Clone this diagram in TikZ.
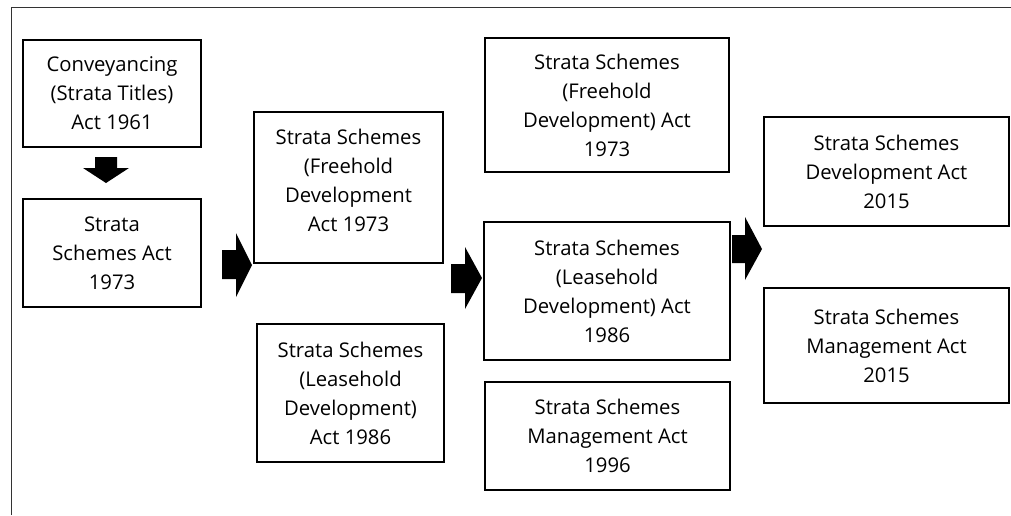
\documentclass[tikz,border=0pt]{standalone}
\usepackage{fontspec}
\setmainfont{Open Sans}
\begin{document}
\begin{tikzpicture}[x=0.75pt,y=-0.75pt,
  box/.style={draw=black,line width=1.1pt,align=center,inner sep=0pt,
    font=\fontsize{15.2}{21.7}\selectfont,text=black},
  lbl/.style={align=center,inner sep=0pt,font=\fontsize{15.2}{21.7}\selectfont,text=black},
  blockarrow/.style={fill=black,draw=none}]
\useasboundingbox (0,0) rectangle (1011,515);
% frame
\draw[line width=0.8pt,black!80] (11.5,515) -- (11.5,7.5) -- (1011,7.5);
% boxes
\newcommand{\bx}[6]{\node[box,minimum width={(#4-#2)*0.75pt},minimum height={(#5-#3)*0.75pt}] (#1) at ({(#2+#4)/2},{(#3+#5)/2}) {#6};}
\bx{A}{23}{40}{201}{147}{Conveyancing\\(Strata Titles)\\Act 1961}
\bx{B}{23}{199}{201}{307}{Strata\\Schemes Act\\1973}
\bx{C}{254}{112}{443}{263}{}
\node[lbl] (Ct) at ([yshift=5.5pt]C.center) {Strata Schemes\\(Freehold\\Development\\Act 1973};
\bx{D}{257}{324}{444}{462}{Strata Schemes\\(Leasehold\\Development)\\Act 1986}
\bx{E}{485}{38}{729}{172}{Strata Schemes\\(Freehold\\Development) Act\\1973}
\bx{F}{484}{222}{730}{360}{Strata Schemes\\(Leasehold\\Development) Act\\1986}
\bx{G}{485}{382}{730}{490}{Strata Schemes\\Management Act\\1996}
\bx{H}{764}{117}{1009}{226}{Strata Schemes\\Development Act\\2015}
\bx{I}{764}{288}{1009}{403}{Strata Schemes\\Management Act\\2015}
% block arrows
\coordinate (t1) at (106,183);
\fill[blockarrow] (t1) -- ++(-23,-15) -- ++(12,0) -- ++(0,-11) -- ++(22,0) -- ++(0,11) -- ++(12,0) -- cycle;
\coordinate (t2) at (252,265);
\fill[blockarrow] (t2) -- ++(-16,-32) -- ++(0,17) -- ++(-14,0) -- ++(0,29) -- ++(14,0) -- ++(0,18) -- cycle;
\coordinate (t3) at (482,278);
\fill[blockarrow] (t3) -- ++(-17,-31) -- ++(0,17) -- ++(-14,0) -- ++(0,29) -- ++(14,0) -- ++(0,16) -- cycle;
\coordinate (t4) at (762,249);
\fill[blockarrow] (t4) -- ++(-17,-32) -- ++(0,18) -- ++(-13,0) -- ++(0,28) -- ++(13,0) -- ++(0,17) -- cycle;
\end{tikzpicture}
\end{document}
